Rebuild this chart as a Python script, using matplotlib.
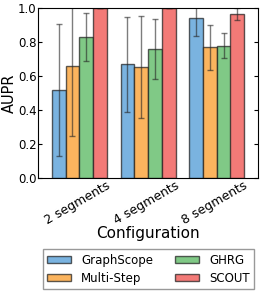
import matplotlib
matplotlib.use("Agg")
import matplotlib.pyplot as plt
import numpy as np

categories = ["2 segments", "4 segments", "8 segments"]
methods = ["GraphScope", "Multi-Step", "GHRG", "SCOUT"]
graphscope = [0.52, 0.67, 0.94]
graphscope_err = [0.39, 0.28, 0.105]
multistep = [0.66, 0.655, 0.77]
multistep_err = [0.415, 0.30, 0.133]
ghrg = [0.83, 0.76, 0.78]
ghrg_err = [0.14, 0.175, 0.075]
scout = [1.0, 1.0, 0.965]
scout_err = [0.0, 0.0, 0.035]

colors = ["#7ab3e0", "#fbb45e", "#80c986", "#f37a77"]
values = [graphscope, multistep, ghrg, scout]
errors = [graphscope_err, multistep_err, ghrg_err, scout_err]

fig = plt.figure(figsize=(2.62, 2.93), dpi=100)
ax = fig.add_axes([38/262, 1-178/293, 220/262, (178-8.3)/293])
x = np.arange(len(categories))
w = 0.2
for k, (v, e, c, m) in enumerate(zip(values, errors, colors, methods)):
    ax.bar(x + (k - 1.5) * w, v, w, color=c, edgecolor=(0.1, 0.1, 0.1, 0.7),
           linewidth=1.0, label=m,
           yerr=e, error_kw=dict(ecolor=(0.15, 0.15, 0.15, 0.6), elinewidth=1.0,
                                 capsize=2, capthick=1.0))
ax.set_xlim(-0.6, 2.6)
ax.set_ylim(0, 1.0)
ax.set_yticks(np.arange(0, 1.01, 0.2))
ax.set_yticklabels([f"{t:.1f}" for t in np.arange(0, 1.01, 0.2)], fontsize=8.5)
ax.set_xticks(x + 0.48)
ax.set_xticklabels(categories, rotation=30, ha="right", fontsize=9)
ax.tick_params(axis="y", direction="in", right=True, length=3, pad=1)
ax.tick_params(axis="x", direction="in", length=0, pad=0.5)
ax.set_ylabel("AUPR", fontsize=10.5)
ax.yaxis.set_label_coords((17 - 38) / 220, 0.5)
ax.set_xlabel("Configuration", fontsize=11)
ax.xaxis.set_label_coords(0.5, (178 - 226) / 169.7)
for s in ax.spines.values():
    s.set_linewidth(0.8)
leg = fig.legend(loc="lower left", bbox_to_anchor=(43/262, 4/293, 211/262, 39/293),
                 mode="expand", ncol=2, fontsize=8.5, frameon=True, fancybox=False,
                 handlelength=2.0, handleheight=0.6, borderaxespad=0,
                 handletextpad=0.9, borderpad=0.35,
                 columnspacing=1.0, labelspacing=0.45)
leg.get_frame().set_edgecolor("#808080")
fig.savefig("out.png", dpi=100)
